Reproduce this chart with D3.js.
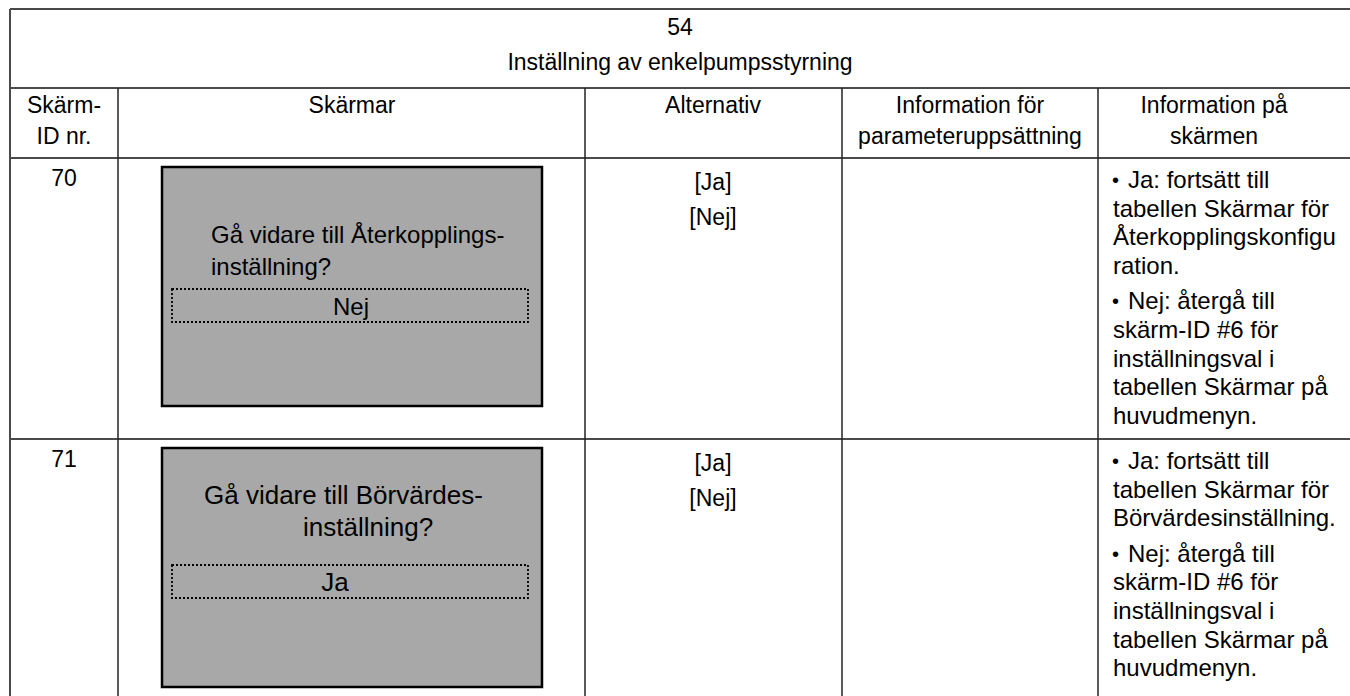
<!DOCTYPE html>
<html><head><meta charset="utf-8">
<script src="https://cdn.jsdelivr.net/npm/d3@7"></script>
<style>
html,body{margin:0;padding:0;background:#fff;overflow:hidden}
text{font-family:"Liberation Sans",Arial,sans-serif;fill:#000}
</style></head>
<body>
<svg id="c" width="1350" height="696"></svg>
<script>
// ---- data ----
const tableNumber = "54";
const tableTitle = "Inställning av enkelpumpsstyrning";
const columnHeaders = [["Skärm-","ID nr."],["Skärmar"],["Alternativ"],["Information för","parameteruppsättning"],["Information på","skärmen"]];
const screenIds = ["70","71"];
const screenLines = [["Gå vidare till Återkopplings-","inställning?"],["Gå vidare till Börvärdes-","inställning?"]];
const screenSelected = ["Nej","Ja"];
const alternatives = [["[Ja]","[Nej]"],["[Ja]","[Nej]"]];
const paramInfo = ["",""];
const screenInfo = [
  [["Ja: fortsätt till","tabellen Skärmar för","Återkopplingskonfigu","ration."],
   ["Nej: återgå till","skärm-ID #6 för","inställningsval i","tabellen Skärmar på","huvudmenyn."]],
  [["Ja: fortsätt till","tabellen Skärmar för","Börvärdesinställning."],
   ["Nej: återgå till","skärm-ID #6 för","inställningsval i","tabellen Skärmar på","huvudmenyn."]]
];

// ---- layout ----
const svg = d3.select("#c");
const colEdges = [10,118,585,842,1098,1352];
const rowEdges = [9,88,158,439,720];
const FS = 23;
const lineColor = "#4a4a4a";

const g = svg.append("g");
g.selectAll("line.h").data(rowEdges.slice(0,4)).join("line")
  .attr("x1",colEdges[0]).attr("x2",colEdges[5])
  .attr("y1",d=>d).attr("y2",d=>d)
  .attr("stroke",lineColor).attr("stroke-width",2);
g.append("line").attr("x1",colEdges[0]).attr("x2",colEdges[0]).attr("y1",rowEdges[0]).attr("y2",rowEdges[4])
  .attr("stroke",lineColor).attr("stroke-width",2);
g.selectAll("line.v").data(colEdges.slice(1,5)).join("line")
  .attr("x1",d=>d).attr("x2",d=>d).attr("y1",rowEdges[1]).attr("y2",rowEdges[4])
  .attr("stroke","#222").attr("stroke-width",1.5);

// title
const cx = 680;
svg.append("text").attr("x",cx).attr("y",35).attr("text-anchor","middle").attr("font-size",FS).text(tableNumber);
svg.append("text").attr("x",cx).attr("y",70).attr("text-anchor","middle").attr("font-size",FS).text(tableTitle);

// headers
const headerCx = [64,352,713,970,1214];
columnHeaders.forEach((lines,i)=>{
  svg.append("g").selectAll("text").data(lines).join("text")
    .attr("x",headerCx[i]).attr("y",(d,j)=>113+j*31)
    .attr("text-anchor","middle").attr("font-size",FS).text(d=>d);
});

// rows
const boxX = 162, boxW = 380, boxH = 239;
const boxTextX = [[211,211],[204,303]];
const boxFS = [24,26];
const selCx = [351,335];
screenIds.forEach((id,r)=>{
  const top = rowEdges[r+2];
  svg.append("text").attr("x",64).attr("y",top+28).attr("text-anchor","middle").attr("font-size",FS).text(id);
  const by = top+9;
  svg.append("rect").attr("x",boxX).attr("y",by).attr("width",boxW).attr("height",boxH)
    .attr("fill","#a8a8a8").attr("stroke","#000").attr("stroke-width",2.5);
  svg.append("g").selectAll("text").data(screenLines[r]).join("text")
    .attr("x",(d,j)=>boxTextX[r][j]).attr("y",(d,j)=>by+ (r===0?76:56) + j*32)
    .attr("font-size",boxFS[r]).text(d=>d);
  const dy = by + (r===0?122:117);
  svg.append("rect").attr("x",172).attr("y",dy).attr("width",356).attr("height",33)
    .attr("fill","none").attr("stroke","#000").attr("stroke-width",1.8).attr("stroke-dasharray","2,2");
  svg.append("text").attr("x",selCx[r]).attr("y",dy+26).attr("text-anchor","middle").attr("font-size",boxFS[r]).text(screenSelected[r]);
  svg.append("g").selectAll("text").data(alternatives[r]).join("text")
    .attr("x",713).attr("y",(d,j)=>top+32+j*35).attr("text-anchor","middle").attr("font-size",FS).text(d=>d);
  let y = top+30;
  screenInfo[r].forEach((bl,bi)=>{
    if(bi>0) y += 7;
    svg.append("text").attr("x",1112).attr("y",y-1).attr("font-size",FS-3).text("•");
    bl.forEach((ln,li)=>{
      svg.append("text").attr("x",li===0?1128:1113).attr("y",y).attr("font-size",FS+1).text(ln);
      y += 28.6;
    });
  });
});
</script>
</body></html>
